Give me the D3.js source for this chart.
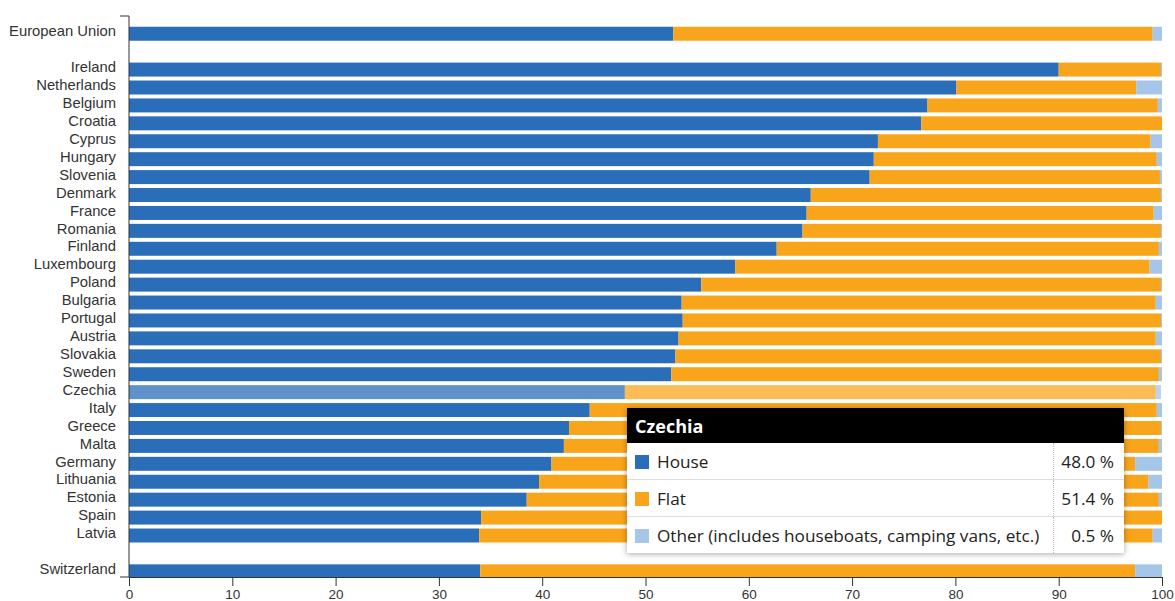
<!DOCTYPE html>
<html>
<head>
<meta charset="utf-8">
<script src="https://cdn.jsdelivr.net/npm/d3@7"></script>
<style>
  html, body { margin: 0; padding: 0; background: #fff; }
  #wrap { position: relative; width: 1175px; height: 601px; overflow: hidden; }
  svg { display: block; }
  .tick text { fill: #333; }
  #tip {
    position: absolute; left: 627px; top: 408px; width: 497px;
    background: #fff; font-family: "Open Sans", "Noto Sans", sans-serif;
    box-shadow: 0 1px 6px rgba(0,0,0,0.35); color: #222;
  }
  #tip .hd { background: #000; color: #fff; font-weight: bold; font-size: 18px; height: 35px; line-height: 37px; padding-left: 8px; }
  #tip table { border-collapse: collapse; width: 100%; font-size: 17.2px; }
  #tip td { height: 36px; padding: 0; }
  #tip tr + tr td { border-top: 1px solid #ddd; }
  #tip td.lab { padding-left: 8px; white-space: nowrap; }
  #tip td.val { text-align: right; padding-right: 10px; border-left: 1px dotted #bbb; width: 60px; }
  #tip .sw { display: inline-block; width: 14px; height: 14px; margin-right: 8px; vertical-align: -1px; }
</style>
</head>
<body>
<div id="wrap"></div>
<script>
const countries = ["European Union","Ireland","Netherlands","Belgium","Croatia","Cyprus","Hungary","Slovenia","Denmark","France","Romania","Finland","Luxembourg","Poland","Bulgaria","Portugal","Austria","Slovakia","Sweden","Czechia","Italy","Greece","Malta","Germany","Lithuania","Estonia","Spain","Latvia","Switzerland"];
const house = [52.7,90.0,80.1,77.3,76.7,72.5,72.1,71.7,66.0,65.6,65.2,62.7,58.7,55.4,53.5,53.6,53.2,52.9,52.5,48.0,44.6,42.6,42.1,40.9,39.7,38.5,34.1,33.9,34.0];
const flat  = [46.4,9.9,17.4,22.3,23.3,26.4,27.4,28.1,33.9,33.6,34.7,37.0,40.1,44.5,45.9,46.3,46.2,47.0,47.2,51.4,54.9,57.3,57.6,56.5,59.0,61.2,65.9,65.2,63.4];
const other = [0.9,0.1,2.5,0.4,0.0,1.1,0.5,0.2,0.1,0.8,0.1,0.3,1.2,0.1,0.6,0.1,0.6,0.1,0.3,0.5,0.5,0.1,0.3,2.6,1.3,0.3,0.0,0.9,2.6];
const seriesKeys = ["House","Flat","Other (includes houseboats, camping vans, etc.)"];
const xTicks = [0,10,20,30,40,50,60,70,80,90,100];
const highlighted = "Czechia";

const colors = {"House":"#2a6eb9","Flat":"#f9a51c","Other (includes houseboats, camping vans, etc.)":"#a5c5e9"};

// rows with gap slots
const rows = ["European Union","_gap1"].concat(countries.slice(1, 28), ["_gap2","Switzerland"]);

const table = countries.map((c, i) => ({country: c, "House": house[i], "Flat": flat[i], "Other (includes houseboats, camping vans, etc.)": other[i]}));

const W = 1175, H = 601;
const axisY = 577;
const svg = d3.select("#wrap").append("svg").attr("width", W).attr("height", H);

const x = d3.scaleLinear().domain([0, 100]).range([129, 1162]);
const y = d3.scaleBand().domain(rows).range([16, 16 + 17.92 * (31 - 0.22 + 1.2)]).paddingInner(0.22).paddingOuter(0.6);

svg.append("clipPath").attr("id", "clip").append("rect").attr("x", 0).attr("y", 0).attr("width", W).attr("height", axisY);

const stack = d3.stack().keys(seriesKeys)(table);
const g = svg.append("g").attr("clip-path", "url(#clip)");
g.selectAll("g.s").data(stack).join("g").attr("class", "s").attr("fill", d => colors[d.key])
  .selectAll("rect").data(d => d).join("rect")
  .attr("x", d => x(d[0]))
  .attr("width", d => Math.max(0, x(d[1]) - x(d[0])))
  .attr("y", d => y(d.data.country))
  .attr("height", y.bandwidth())
  .attr("opacity", d => d.data.country === highlighted ? 0.75 : 1);

// x axis
const xAxis = svg.append("g").attr("transform", `translate(0,${axisY})`)
  .call(d3.axisBottom(x).tickValues(xTicks).tickSize(9).tickSizeOuter(0).tickPadding(3));
xAxis.selectAll("text").style("font-family", "Arial, 'Liberation Sans', sans-serif").style("font-size", "13.5px");
xAxis.selectAll("line, path").attr("stroke", "#333");

// y axis
const yAxisG = svg.append("g").attr("transform", `translate(129,0)`);
yAxisG.append("path").attr("d", `M-9,16H0V${axisY}H-9`).attr("fill", "none").attr("stroke", "#333");
yAxisG.selectAll("text").data(countries).join("text")
  .attr("x", -13)
  .attr("y", d => y(d) + y.bandwidth() / 2 - 2.5)
  .attr("dy", "0.35em")
  .attr("text-anchor", "end")
  .style("font-family", "Arial, 'Liberation Sans', sans-serif")
  .style("font-size", "14.8px")
  .attr("fill", "#333")
  .text(d => d);

// tooltip
const idx = countries.indexOf(highlighted);
const tip = d3.select("#wrap").append("div").attr("id", "tip");
tip.append("div").attr("class", "hd").text(highlighted);
const tb = tip.append("table");
const vals = [house[idx], flat[idx], other[idx]];
seriesKeys.forEach((k, i) => {
  const tr = tb.append("tr");
  const td = tr.append("td").attr("class", "lab");
  td.append("span").attr("class", "sw").style("background", colors[k]);
  td.append("span").text(k);
  tr.append("td").attr("class", "val").text(vals[i].toFixed(1) + " %");
});
</script>
</body>
</html>
